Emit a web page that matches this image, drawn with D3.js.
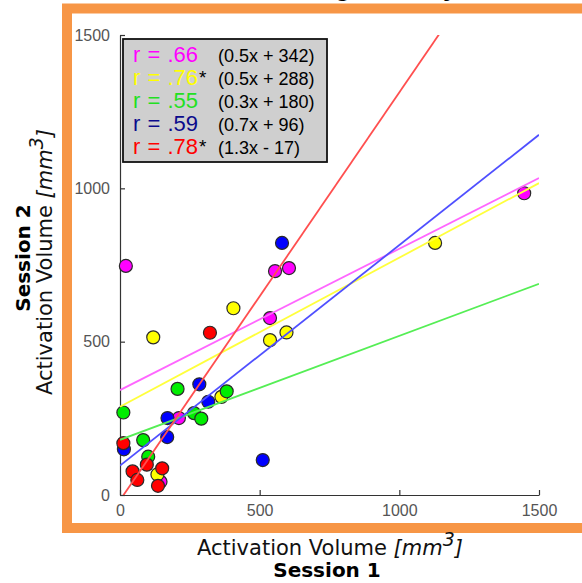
<!DOCTYPE html>
<html><head><meta charset="utf-8">
<script src="https://cdn.jsdelivr.net/npm/d3@7"></script>
<style>body{margin:0;background:#fff;overflow:hidden}</style>
</head><body>
<svg id="c" width="582" height="583"></svg>
<script>
// ---- data ----
const seriesKeys = ["magenta", "yellow", "green", "blue", "red"];
const magentaX = [21, 211, 145, 537, 555, 605, 1447];
const magentaY = [747, 251, 43, 577, 730, 740, 984];
const yellowX = [406, 119, 537, 596, 363, 134, 1128];
const yellowY = [609, 514, 505, 530, 320, 67, 822];
const greenX = [12, 206, 382, 265, 291, 83, 101];
const greenY = [269, 346, 338, 267, 249, 179, 125];
const blueX = [284, 316, 170, 169, 14, 511, 580];
const blueY = [361, 304, 251, 189, 149, 114, 822];
const redX = [322, 12, 96, 45, 62, 151, 136];
const redY = [529, 169, 99, 77, 49, 87, 30];
const fitSlopes = [0.461, 0.486, 0.339, 0.719, 1.33];
const fitIntercepts = [342, 288, 180, 96, -17];
const rLabels = ["r = .66", "r = .76", "r = .55", "r = .59", "r = .78"];
const rStars = ["", "*", "", "", "*"];
const eqLabels = ["(0.5x + 342)", "(0.5x + 288)", "(0.3x + 180)", "(0.7x + 96)", "(1.3x - 17)"];
const xTicks = [0, 500, 1000, 1500];
const yTicks = [0, 500, 1000, 1500];

const pointColors = ["#ff00ff", "#ffff00", "#00ee00", "#0000ff", "#ff0000"];
const lineColors = ["#ff66ff", "#ffff3c", "#55ee55", "#4f4fff", "#ff4f4f"];
const textColors = ["#ff00ff", "#ffff00", "#22e022", "#0b0b8c", "#ff0000"];
const seriesX = [magentaX, yellowX, greenX, blueX, redX];
const seriesY = [magentaY, yellowY, greenY, blueY, redY];

const svg = d3.select("#c");
const x = d3.scaleLinear().domain([0, 1500]).range([120, 539]);
const y = d3.scaleLinear().domain([0, 1500]).range([495, 35]);

// orange frame
svg.append("rect").attr("x", 67).attr("y", 8.5).attr("width", 620).attr("height", 519.5)
  .attr("fill", "none").attr("stroke", "#f79646").attr("stroke-width", 10);

// title (mostly outside view)
svg.append("text").attr("x", 247).attr("y", -4).attr("font-family", "Liberation Sans, Arial")
  .attr("font-weight", "bold").attr("font-size", 26).attr("fill", "#000").text("Working Memory");

// axes
const fmt = d3.format("d");
const ax = svg.append("g").attr("transform", "translate(0,495)")
  .call(d3.axisBottom(x).tickValues(xTicks).tickFormat(fmt).tickSizeInner(-5).tickSizeOuter(0).tickPadding(10));
const ay = svg.append("g").attr("transform", "translate(120,0)")
  .call(d3.axisLeft(y).tickValues(yTicks).tickFormat(fmt).tickSizeInner(-5).tickSizeOuter(0).tickPadding(10));
[ax, ay].forEach(g => {
  g.select(".domain").attr("stroke", "#333").attr("stroke-width", 1.2);
  g.selectAll(".tick line").attr("stroke", "#333").attr("stroke-width", 1.2);
  g.selectAll(".tick text").attr("font-family", "Liberation Sans, Arial").attr("font-size", 16).attr("fill", "#555");
});

// clip
svg.append("clipPath").attr("id", "plotclip").append("rect")
  .attr("x", 120).attr("y", 35).attr("width", 419).attr("height", 460);

// points
const pts = svg.append("g");
seriesKeys.forEach((k, i) => {
  pts.selectAll("circle." + k).data(seriesX[i].map((v, j) => [v, seriesY[i][j]]))
    .enter().append("circle").attr("class", k)
    .attr("cx", d => x(d[0])).attr("cy", d => y(d[1])).attr("r", 6.5)
    .attr("fill", pointColors[i]).attr("stroke", "#2a2a2a").attr("stroke-width", 1.2);
});

// fit lines
const lines = svg.append("g").attr("clip-path", "url(#plotclip)");
seriesKeys.forEach((k, i) => {
  const line = d3.line().x(d => x(d)).y(d => y(fitSlopes[i] * d + fitIntercepts[i]));
  lines.append("path").datum([0, 1500]).attr("d", line)
    .attr("fill", "none").attr("stroke", lineColors[i]).attr("stroke-width", 1.8);
});

// legend box
svg.append("rect").attr("x", 123).attr("y", 39).attr("width", 204).attr("height", 123)
  .attr("fill", "#cfcfcf").attr("stroke", "#111").attr("stroke-width", 1.8);
seriesKeys.forEach((k, i) => {
  const by = 61.5 + i * 23.2;
  const t = svg.append("text").attr("x", 133).attr("y", by)
    .attr("font-family", "Liberation Sans, Arial").attr("font-size", 22)
    .attr("fill", textColors[i]).attr("word-spacing", 1).text(rLabels[i]);
  if (rStars[i]) {
    const w = t.node().getComputedTextLength();
    svg.append("text").attr("x", 133 + w + 1).attr("y", by - 1)
      .attr("font-family", "Liberation Sans, Arial").attr("font-size", 19)
      .attr("fill", "#000").text(rStars[i]);
  }
  svg.append("text").attr("x", 218).attr("y", by)
    .attr("font-family", "Liberation Sans, Arial").attr("font-size", 18)
    .attr("fill", "#000").text(eqLabels[i]);
});

// axis labels
function volLabel(g) {
  g.append("tspan").text("Activation Volume ");
  g.append("tspan").attr("font-style", "italic").text("[mm");
  g.append("tspan").attr("font-style", "italic").attr("dy", -9).attr("font-size", 19).text("3");
  g.append("tspan").attr("font-style", "italic").attr("dy", 9).text("]");
}
const xl = svg.append("text").attr("x", 330).attr("y", 555).attr("text-anchor", "middle")
  .attr("font-family", "DejaVu Sans, Verdana").attr("font-size", 21).attr("fill", "#111");
volLabel(xl);
svg.append("text").attr("x", 327).attr("y", 577).attr("text-anchor", "middle")
  .attr("font-family", "DejaVu Sans, Verdana").attr("font-weight", "bold").attr("font-size", 20)
  .attr("fill", "#000").text("Session 1");

const yl = svg.append("text").attr("transform", "translate(52,262) rotate(-90)").attr("text-anchor", "middle")
  .attr("font-family", "DejaVu Sans, Verdana").attr("font-size", 21).attr("fill", "#111");
volLabel(yl);
svg.append("text").attr("transform", "translate(30,258) rotate(-90)").attr("text-anchor", "middle")
  .attr("font-family", "DejaVu Sans, Verdana").attr("font-weight", "bold").attr("font-size", 20)
  .attr("fill", "#000").text("Session 2");
</script>
</body></html>
